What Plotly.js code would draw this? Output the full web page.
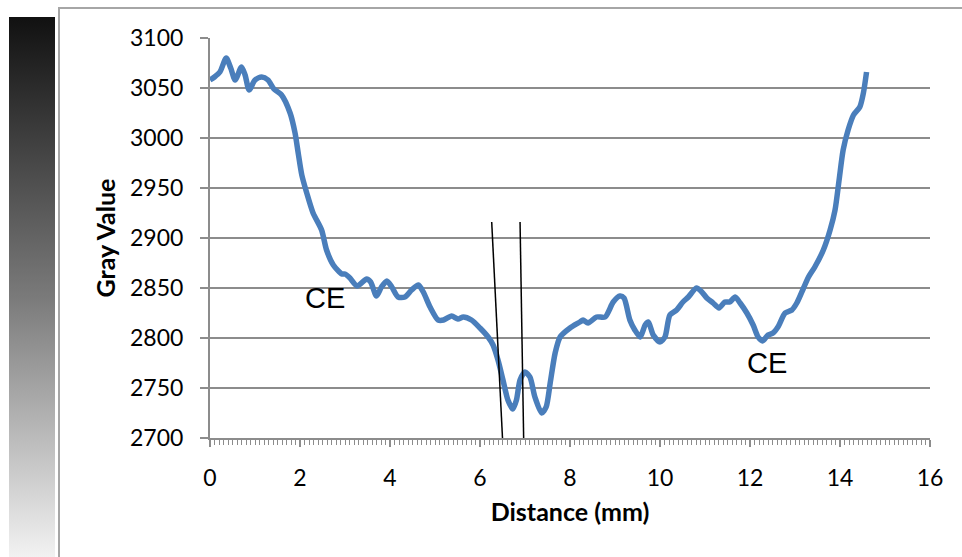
<!DOCTYPE html>
<html>
<head>
<meta charset="utf-8">
<script src="https://cdn.plot.ly/plotly-3.0.1.min.js"></script>
<style>
  html, body { margin: 0; padding: 0; background: #ffffff; }
  #wrap { position: relative; width: 962px; height: 557px; overflow: hidden; }
  #grad { position: absolute; left: 9px; top: 17px; width: 46px; height: 560px;
          background: linear-gradient(to bottom, #111111 0%, #7a7a7a 50%, #fbfbfb 100%); }
  #frame { position: absolute; left: 58px; top: 7px; width: 920px; height: 570px;
           border: 2px solid #a6a6a6; box-sizing: border-box; }
  #chart { position: absolute; left: 0; top: 0; width: 962px; height: 557px; }
</style>
</head>
<body>
<div id="wrap">
  <div id="grad"></div>
  <div id="frame"></div>
  <div id="chart"></div>
</div>
<script>
// Distance (mm)
const distance = [
  0.00, 0.10, 0.22, 0.36, 0.46, 0.56, 0.70, 0.78, 0.87, 1.00,
  1.15, 1.29, 1.42, 1.59, 1.78, 1.89, 1.96, 2.04, 2.15, 2.29,
  2.48, 2.59, 2.74, 2.93, 3.00, 3.11, 3.27, 3.48, 3.57, 3.70,
  3.81, 3.93, 4.04, 4.18, 4.33, 4.48, 4.63, 4.74, 4.89, 5.07,
  5.19, 5.37, 5.51, 5.63, 5.81, 6.00, 6.18, 6.29, 6.40, 6.51,
  6.62, 6.73, 6.81, 6.89, 7.00, 7.11, 7.22, 7.37, 7.47, 7.56,
  7.67, 7.78, 8.00, 8.22, 8.29, 8.40, 8.59, 8.78, 8.96, 9.11,
  9.20, 9.33, 9.44, 9.56, 9.67, 9.74, 9.85, 10.00, 10.11, 10.22,
  10.37, 10.51, 10.63, 10.81, 10.93, 11.04, 11.18, 11.31, 11.44, 11.55,
  11.67, 11.78, 11.93, 12.07, 12.18, 12.28, 12.40, 12.51, 12.62, 12.78,
  12.93, 13.04, 13.19, 13.30, 13.44, 13.63, 13.78, 13.89, 13.98, 14.07,
  14.18, 14.30, 14.44, 14.52, 14.59
];
// Gray Value
const grayValue = [
  3058, 3061, 3066, 3080, 3070, 3058, 3071, 3063, 3048, 3058,
  3061, 3058, 3049, 3043, 3025, 3005, 2985, 2963, 2945, 2925,
  2908, 2888, 2873, 2864, 2864, 2860, 2852, 2859, 2856, 2842,
  2851, 2857, 2851, 2841, 2841, 2848, 2853, 2846, 2831, 2818,
  2818, 2822, 2819, 2821, 2818, 2810, 2801, 2793, 2778, 2758,
  2738, 2729, 2738, 2758, 2766, 2761, 2741, 2725, 2731, 2755,
  2785, 2801, 2810, 2816, 2818, 2815, 2821, 2821, 2836, 2842,
  2840, 2818, 2808, 2801, 2813, 2816, 2803, 2796, 2801, 2823,
  2828, 2836, 2841, 2850, 2846, 2840, 2835, 2830, 2836, 2836,
  2841, 2835, 2825, 2813, 2801, 2797, 2803, 2805, 2811, 2825,
  2828, 2835, 2850, 2861, 2871, 2888, 2908, 2928, 2958, 2988,
  3008, 3023, 3031, 3045, 3066
];
// Annotation labels
const ceLabels = ["CE", "CE"];
const ceX = [2.55, 12.38];
const ceY = [2840, 2775];
// Marker lines (start/end points in data units)
const line1X = [6.26, 6.50], line1Y = [2916, 2700];
const line2X = [6.89, 6.97], line2Y = [2916, 2700];
// Axis ticks
const yTicks = [2700, 2750, 2800, 2850, 2900, 2950, 3000, 3050, 3100];
const xTicks = [0, 2, 4, 6, 8, 10, 12, 14, 16];

const font = "Lato, 'Open Sans', sans-serif";

const trace = {
  x: distance, y: grayValue, type: 'scatter', mode: 'lines',
  line: { color: '#4a7ebb', width: 5.5, shape: 'spline', smoothing: 0.7 },
  hoverinfo: 'skip'
};

const shapes = [
  { type: 'line', xref: 'x', yref: 'y', x0: line1X[0], y0: line1Y[0], x1: line1X[1], y1: line1Y[1],
    line: { color: '#000000', width: 1.5 } },
  { type: 'line', xref: 'x', yref: 'y', x0: line2X[0], y0: line2Y[0], x1: line2X[1], y1: line2Y[1],
    line: { color: '#000000', width: 1.5 } }
];

const annotations = ceLabels.map((t, i) => ({
  x: ceX[i], y: ceY[i], xref: 'x', yref: 'y', text: t, showarrow: false,
  font: { family: "'Liberation Sans', Arial, sans-serif", size: 29, color: '#000' }
}));

const layout = {
  width: 962, height: 557,
  margin: { l: 210, r: 32, t: 38, b: 119 },
  paper_bgcolor: 'rgba(0,0,0,0)', plot_bgcolor: 'rgba(0,0,0,0)',
  showlegend: false,
  font: { family: font, color: '#000' },
  xaxis: {
    range: [0, 16], tickvals: xTicks, ticktext: xTicks.map(String),
    showgrid: false, zeroline: false,
    showline: true, linecolor: '#8c8c8c', linewidth: 2,
    ticks: 'outside', ticklen: 7, tickwidth: 2, tickcolor: '#8c8c8c',
    minor: { dtick: 0.1, ticks: 'outside', ticklen: 5, tickwidth: 1, tickcolor: '#8c8c8c', showgrid: false },
    tickfont: { family: font, size: 23, color: '#000' },
    ticklabelstandoff: 11,
    title: { text: '<b>Distance (mm)</b>', font: { family: font, size: 25, color: '#000' }, standoff: 14 }
  },
  yaxis: {
    range: [2700, 3100], tickvals: yTicks, ticktext: yTicks.map(String),
    showgrid: true, gridcolor: '#8c8c8c', gridwidth: 2, zeroline: false,
    showline: true, linecolor: '#8c8c8c', linewidth: 2,
    ticks: 'outside', ticklen: 8, tickwidth: 2, tickcolor: '#8c8c8c',
    tickfont: { family: font, size: 23, color: '#000' },
    ticklabelstandoff: 12,
    title: { text: '<b>Gray Value</b>', font: { family: font, size: 25, color: '#000' }, standoff: 7 }
  },
  shapes: shapes,
  annotations: annotations
};

Plotly.newPlot('chart', [trace], layout, { displayModeBar: false, staticPlot: true });
</script>
</body>
</html>
